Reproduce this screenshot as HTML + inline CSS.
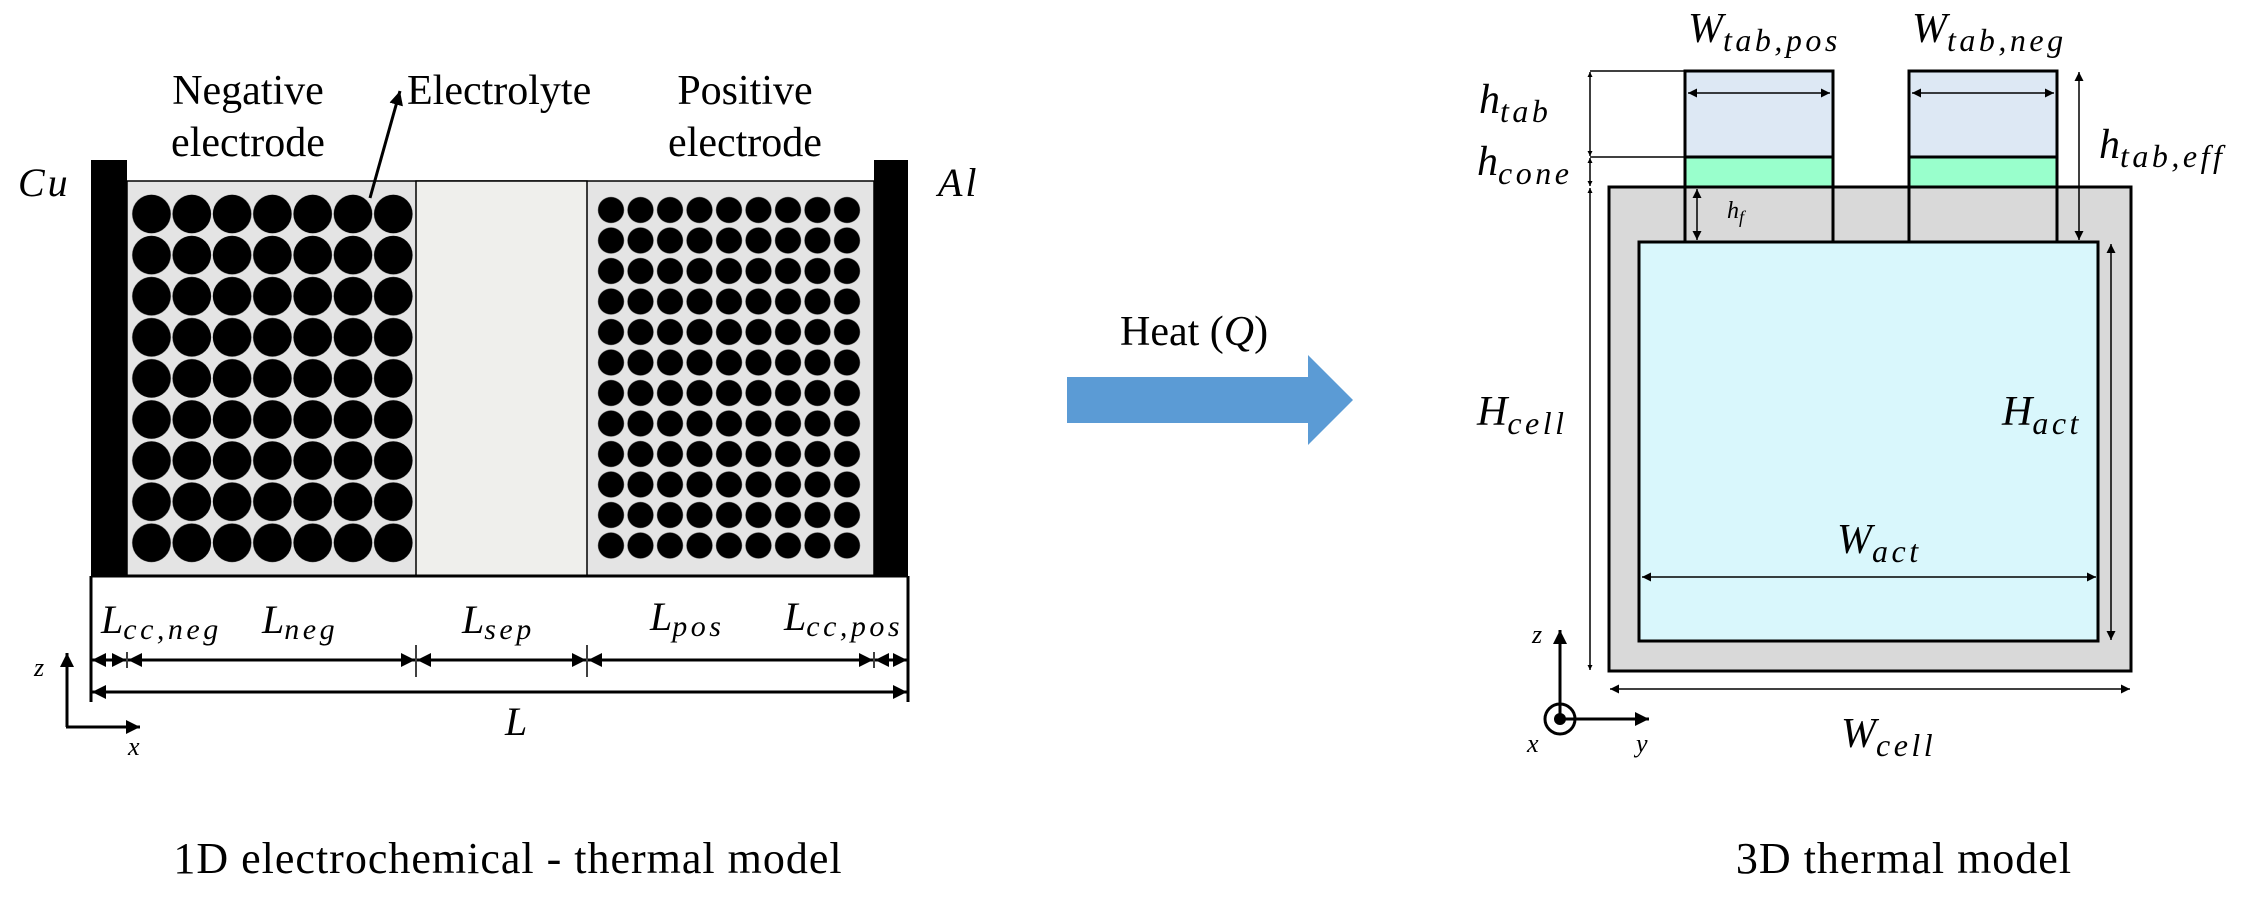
<!DOCTYPE html>
<html><head><meta charset="utf-8"><style>
html,body{margin:0;padding:0;background:#fff}
svg{display:block}
.t{font-family:"Liberation Serif",serif;fill:#000}
.m{font-family:"Liberation Serif",serif;font-style:italic;fill:#000}
.s{letter-spacing:3.5px}
</style></head><body>
<svg width="2257" height="909" viewBox="0 0 2257 909" xmlns="http://www.w3.org/2000/svg">
<defs>
<marker id="a" viewBox="0 0 10 10" refX="10" refY="5" markerWidth="5" markerHeight="5" orient="auto-start-reverse" markerUnits="userSpaceOnUse"><path d="M0,0L10,5L0,10z" fill="#000"/></marker>
<marker id="ab" viewBox="0 0 10 10" refX="10" refY="5" markerWidth="14" markerHeight="14" orient="auto-start-reverse" markerUnits="userSpaceOnUse"><path d="M0,0L10,5L0,10z" fill="#000"/></marker>
<marker id="as" viewBox="0 0 10 10" refX="10" refY="5" markerWidth="9" markerHeight="9" orient="auto-start-reverse" markerUnits="userSpaceOnUse"><path d="M0,0L10,5L0,10z" fill="#000"/></marker>
<pattern id="pn" x="131.35" y="193.45" width="40.3" height="41.1" patternUnits="userSpaceOnUse"><circle cx="20.15" cy="20.55" r="19.3" fill="#000"/></pattern>
<pattern id="pp" x="596.25" y="194.75" width="29.5" height="30.5" patternUnits="userSpaceOnUse"><circle cx="14.75" cy="15.25" r="13" fill="#000"/></pattern>
</defs>

<!-- LEFT PANEL -->
<rect x="127" y="181" width="747" height="395" fill="#e4e4e4" stroke="#000" stroke-width="1.5"/>
<rect x="416" y="181" width="171" height="395" fill="#efefec" stroke="#000" stroke-width="1.5"/>
<rect x="131.35" y="193.45" width="282.1" height="369.9" fill="url(#pn)"/>
<rect x="596.25" y="194.75" width="265.5" height="366" fill="url(#pp)"/>
<rect x="91" y="160" width="36" height="416" fill="#000"/>
<rect x="874" y="160" width="34" height="416" fill="#000"/>
<path d="M91,576H908M91,576V702M908,576V702" stroke="#000" stroke-width="3" fill="none"/>
<g stroke="#000" stroke-width="1.5"><path d="M416,645V677M587,645V677M874,652V668M127,652V668"/></g>
<g stroke="#000" stroke-width="3" fill="none">
<line x1="92" y1="660" x2="126" y2="660" marker-start="url(#ab)" marker-end="url(#ab)"/>
<line x1="128" y1="660" x2="415" y2="660" marker-start="url(#ab)" marker-end="url(#ab)"/>
<line x1="417" y1="660" x2="586" y2="660" marker-start="url(#ab)" marker-end="url(#ab)"/>
<line x1="588" y1="660" x2="873" y2="660" marker-start="url(#ab)" marker-end="url(#ab)"/>
<line x1="875" y1="660" x2="907" y2="660" marker-start="url(#ab)" marker-end="url(#ab)"/>
<line x1="92" y1="692" x2="907" y2="692" marker-start="url(#ab)" marker-end="url(#ab)"/>
<line x1="67" y1="727" x2="67" y2="653" marker-end="url(#ab)"/>
<line x1="66" y1="727" x2="140" y2="727" marker-end="url(#ab)"/>
<line x1="370" y1="198" x2="400" y2="91" marker-end="url(#ab)"/>
</g>
<text class="t" x="248" y="104" font-size="42" text-anchor="middle">Negative</text>
<text class="t" x="248" y="156" font-size="42" text-anchor="middle">electrode</text>
<text class="t" x="407" y="104" font-size="42">Electrolyte</text>
<text class="t" x="745" y="104" font-size="42" text-anchor="middle">Positive</text>
<text class="t" x="745" y="156" font-size="42" text-anchor="middle">electrode</text>
<text class="m" x="18" y="196" font-size="40" letter-spacing="3">Cu</text>
<text class="m" x="938" y="196" font-size="40" letter-spacing="3">Al</text>
<text class="m" x="101" y="633" font-size="40">L<tspan class="s" font-size="30" dy="6">cc,neg</tspan></text>
<text class="m" x="262" y="633" font-size="40">L<tspan class="s" font-size="30" dy="6">neg</tspan></text>
<text class="m" x="462" y="633" font-size="40">L<tspan class="s" font-size="30" dy="6">sep</tspan></text>
<text class="m" x="650" y="630" font-size="40">L<tspan class="s" font-size="30" dy="6">pos</tspan></text>
<text class="m" x="784" y="630" font-size="40">L<tspan class="s" font-size="30" dy="6">cc,pos</tspan></text>
<text class="m" x="505" y="735" font-size="40">L</text>
<text class="m" x="34" y="676" font-size="26">z</text>
<text class="m" x="128" y="755" font-size="26">x</text>
<text class="t" x="508" y="873" font-size="44" text-anchor="middle" letter-spacing="1">1D electrochemical  - thermal model</text>

<!-- HEAT ARROW -->
<path d="M1067,377H1308V355L1353,400L1308,445V423H1067z" fill="#5b9bd5"/>
<text class="t" x="1120" y="345" font-size="42">Heat (<tspan font-style="italic">Q</tspan>)</text>

<!-- RIGHT PANEL -->
<rect x="1609" y="187" width="522" height="484" fill="#d9d9d9" stroke="#000" stroke-width="3"/>
<rect x="1685" y="71" width="148" height="86" fill="#dde8f4" stroke="#000" stroke-width="3"/>
<rect x="1685" y="157" width="148" height="30" fill="#99ffcc" stroke="#000" stroke-width="3"/>
<rect x="1909" y="71" width="148" height="86" fill="#dde8f4" stroke="#000" stroke-width="3"/>
<rect x="1909" y="157" width="148" height="30" fill="#99ffcc" stroke="#000" stroke-width="3"/>
<path d="M1685,187V242M1833,187V242M1909,187V242M2057,187V242" stroke="#000" stroke-width="3"/>
<rect x="1639" y="242" width="459" height="399" fill="#d9f7fc" stroke="#000" stroke-width="3"/>
<g stroke="#000" stroke-width="1.5" fill="none">
<path d="M1590,71H1685M1590,157H1685"/>
<line x1="1688" y1="93" x2="1830" y2="93" marker-start="url(#as)" marker-end="url(#as)"/>
<line x1="1912" y1="93" x2="2054" y2="93" marker-start="url(#as)" marker-end="url(#as)"/>
<line x1="1590" y1="72" x2="1590" y2="156" marker-start="url(#a)" marker-end="url(#a)"/>
<line x1="1590" y1="158" x2="1590" y2="186" marker-start="url(#a)" marker-end="url(#a)"/>
<line x1="1590" y1="188" x2="1590" y2="670" marker-start="url(#a)" marker-end="url(#a)"/>
<line x1="1697" y1="189" x2="1697" y2="240" marker-start="url(#as)" marker-end="url(#as)"/>
<line x1="2079" y1="72" x2="2079" y2="240" marker-start="url(#as)" marker-end="url(#as)"/>
<line x1="2111" y1="244" x2="2111" y2="640" marker-start="url(#as)" marker-end="url(#as)"/>
<line x1="1642" y1="577" x2="2096" y2="577" marker-start="url(#as)" marker-end="url(#as)"/>
<line x1="1610" y1="689" x2="2130" y2="689" marker-start="url(#as)" marker-end="url(#as)"/>
</g>
<g stroke="#000" stroke-width="3" fill="none">
<line x1="1560" y1="719" x2="1560" y2="630" marker-end="url(#ab)"/>
<line x1="1560" y1="719" x2="1649" y2="719" marker-end="url(#ab)"/>
<circle cx="1560" cy="719" r="15"/>
</g>
<circle cx="1560" cy="719" r="6" fill="#000"/>
<text class="m" x="1532" y="643" font-size="26">z</text>
<text class="m" x="1527" y="752" font-size="26">x</text>
<text class="m" x="1636" y="752" font-size="26">y</text>

<text class="m" x="1688" y="42" font-size="42">W<tspan class="s" font-size="32" dy="9">tab,pos</tspan></text>
<text class="m" x="1912" y="42" font-size="42">W<tspan class="s" font-size="32" dy="9">tab,neg</tspan></text>
<text class="m" x="1479" y="113" font-size="42">h<tspan class="s" font-size="32" dy="9">tab</tspan></text>
<text class="m" x="1477" y="175" font-size="42">h<tspan class="s" font-size="32" dy="9">cone</tspan></text>
<text class="m" x="2099" y="158" font-size="42">h<tspan class="s" font-size="32" dy="9" letter-spacing="6">tab,eff</tspan></text>
<text class="m" x="1727" y="218" font-size="24">h<tspan font-size="18" dy="5">f</tspan></text>
<text class="m" x="1477" y="425" font-size="42">H<tspan class="s" font-size="32" dy="9">cell</tspan></text>
<text class="m" x="2002" y="425" font-size="42">H<tspan class="s" font-size="32" dy="9">act</tspan></text>
<text class="m" x="1837" y="553" font-size="42">W<tspan class="s" font-size="32" dy="9">act</tspan></text>
<text class="m" x="1841" y="747" font-size="42">W<tspan class="s" font-size="32" dy="9">cell</tspan></text>
<text class="t" x="1904" y="873" font-size="44" text-anchor="middle" letter-spacing="1">3D thermal model</text>
</svg>
</body></html>
